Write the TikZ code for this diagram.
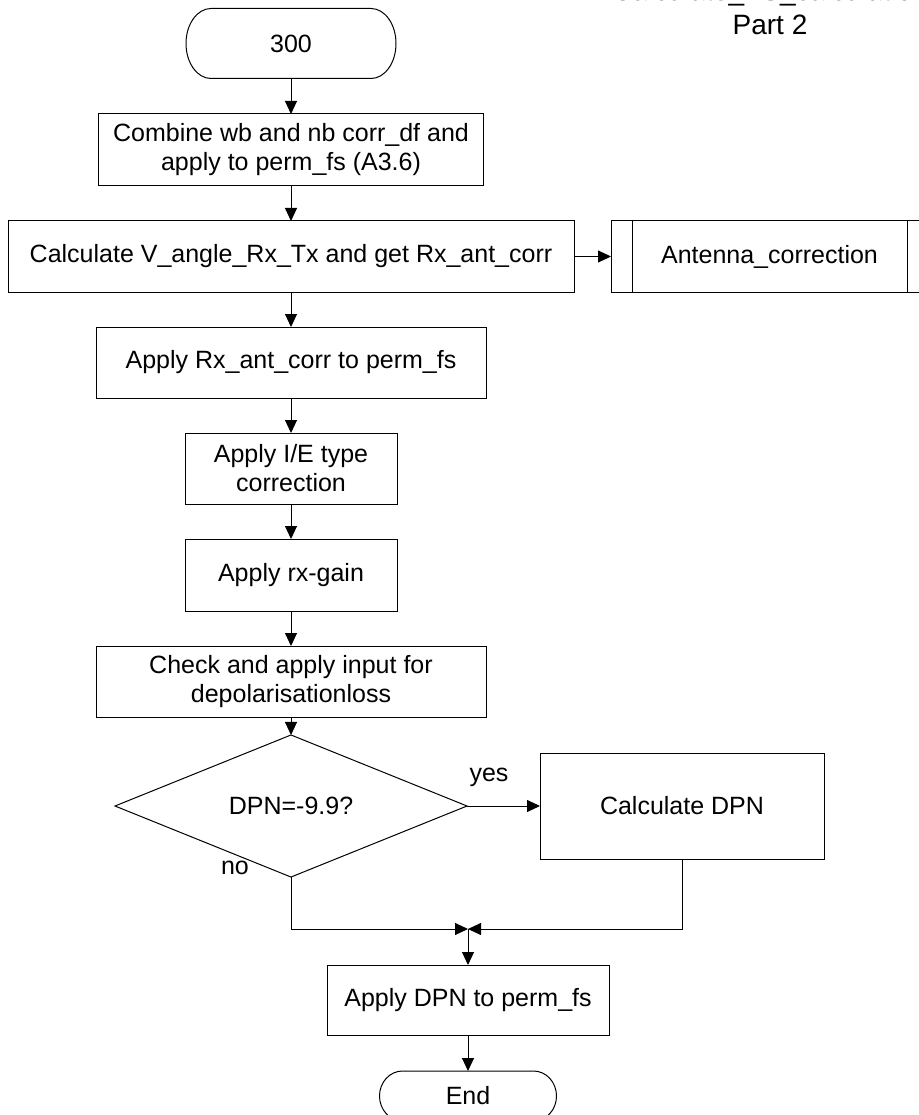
\documentclass[tikz,border=0pt]{standalone}
\usepackage{fontspec}
\setmainfont{Liberation Sans}
\usetikzlibrary{arrows.meta,shapes.geometric,calc}
\newcommand\drawterm[3]{\draw[ln] ($(#1.north west)+(#2,0)$) -- ($(#1.north east)-(#2,0)$) arc[start angle=90,end angle=-90,x radius=#2,y radius=#3] -- ($(#1.south west)+(#2,0)$) arc[start angle=270,end angle=90,x radius=#2,y radius=#3] -- cycle;}
\begin{document}
\begin{tikzpicture}[x=1pt,y=1pt,
  every node/.style={font=\fontsize{25pt}{29pt}\selectfont, text=black},
  box/.style={draw=black, line width=1pt, rectangle, align=center, inner sep=0pt, outer sep=0pt},
  term/.style={inner sep=0pt, outer sep=0pt},
  ln/.style={line width=1pt, draw=black},
  arr/.style={ln, -{Triangle[length=13pt,width=12pt]}},
  titlefont/.style={font=\fontsize{28pt}{34pt}\selectfont}
]
\useasboundingbox (0,0) rectangle (918,-1115);

% title (its first line is cut off at the top, as in the reference)
\begin{scope}
\clip (0,0) rectangle (918,-60);
\node (ta) [titlefont, anchor=base] at (770,-0.2) {Calculate\_FS\_calculation};
\end{scope}
\node (tb) [titlefont, anchor=base] at (770,-35) {Part 2};

% nodes
\node (t300) [term, minimum width=210, minimum height=70] at (291,-43.5) {300};
\drawterm{t300}{25}{35}
\node (comb) [box, minimum width=385, minimum height=72] at (291,-150) {Combine wb and nb corr\_df and\\apply to perm\_fs (A3.6)};
\node (calcV) [box, minimum width=566, minimum height=71] at (291,-256.5) {Calculate V\_angle\_Rx\_Tx and get Rx\_ant\_corr};
\node (ant) [box, minimum width=317, minimum height=71] at (769.5,-256.5) {Antenna\_correction};
\draw[ln] ([xshift=21]ant.north west) -- ([xshift=21]ant.south west);
\draw[ln] ([xshift=-21]ant.north east) -- ([xshift=-21]ant.south east);
\node (applyRx) [box, minimum width=390, minimum height=71] at (291,-362.5) {Apply Rx\_ant\_corr to perm\_fs};
\node (ie) [box, minimum width=212, minimum height=71] at (291,-468.5) {Apply I/E type\\correction};
\node (gain) [box, minimum width=212, minimum height=72] at (291,-575) {Apply rx-gain};
\node (check) [box, minimum width=390, minimum height=71] at (291,-681.5) {Check and apply input for\\depolarisationloss};
\node (dec) [draw=black, line width=1pt, diamond, inner sep=0pt, outer sep=0pt, minimum width=352, minimum height=104] at (291,-806) {DPN=-9.9?};
\node (dpn) [box, minimum width=284, minimum height=106] at (682,-806) {Calculate DPN};
\coordinate (m) at (468,-929);
\node (applyDPN) [box, minimum width=282, minimum height=70] at (468,-1000) {Apply DPN to perm\_fs};
\node (end) [term, minimum width=177, minimum height=50] at (468,-1096) {End};
\drawterm{end}{23}{25}

% labels
\node (yes) at (489,-777) {yes};
\node (no) at (235,-868) {no};

% connectors
\draw[arr] (t300) -- (comb);
\draw[arr] (comb) -- (calcV);
\draw[arr] (calcV) -- (ant);
\draw[arr] (calcV) -- (applyRx);
\draw[arr] (applyRx) -- (ie);
\draw[arr] (ie) -- (gain);
\draw[arr] (gain) -- (check);
\draw[arr] (check) -- (dec);
\draw[arr] (dec) -- (dpn);
\draw[arr] (dec.south) |- (m);
\draw[arr] (dpn.south) |- (m);
\draw[arr] (m) -- (applyDPN);
\draw[arr] (applyDPN) -- (end);
\end{tikzpicture}
\end{document}
